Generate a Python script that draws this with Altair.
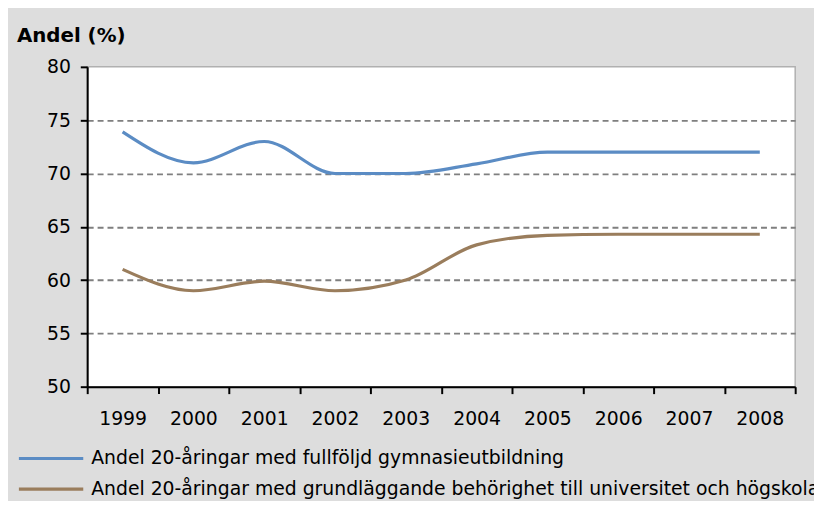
import altair as alt
import pandas as pd

years = ["1999", "2000", "2001", "2002", "2003", "2004", "2005", "2006", "2007", "2008"]
series_names = [
    "Andel 20-åringar med fullföljd gymnasieutbildning",
    "Andel 20-åringar med grundläggande behörighet till universitet och högskola",
]
gymnasie = [73.9, 71.0, 73.0, 70.0, 70.0, 70.9, 72.0, 72.0, 72.0, 72.0]
behorighet = [61.0, 59.0, 59.9, 59.0, 60.0, 63.3, 64.2, 64.3, 64.3, 64.3]
y_ticks = [50, 55, 60, 65, 70, 75, 80]
colors = ["#5b8cc4", "#9a7d5c"]

rows = []
for name, vals in zip(series_names, [gymnasie, behorighet]):
    for yr, v in zip(years, vals):
        rows.append({"year": yr, "value": v, "series": name})
df = pd.DataFrame(rows)

FONT = "DejaVu Sans"

chart = alt.Chart(df).mark_line(strokeWidth=3.2, interpolate="monotone").encode(
    x=alt.X(
        "year:O",
        bandPosition=0.5,
        sort=years,
        scale=alt.Scale(type="band", paddingInner=0, paddingOuter=0),
        axis=alt.Axis(
            title=None, labelAngle=0, tickBand="extent", grid=False,
            domainColor="#000000", domainWidth=2, tickColor="#000000", tickWidth=2,
            tickSize=7, labelPadding=16, labelFont=FONT, labelFontSize=19,
            labelColor="#000000",
        ),
    ),
    y=alt.Y(
        "value:Q",
        scale=alt.Scale(domain=[50, 80], nice=False, zero=False),
        axis=alt.Axis(
            title=None, values=y_ticks, grid=True, gridColor="#7f7f7f",
            gridDash=[6, 4], gridWidth=1.8,
            gridOpacity={"condition": {"test": "datum.value >= 80 || datum.value <= 50", "value": 0}, "value": 1},
            domainColor="#000000", domainWidth=2, tickColor="#000000", tickWidth=2,
            tickSize=7, labelPadding=10, labelFont=FONT, labelFontSize=19,
            labelColor="#000000",
        ),
    ),
    color=alt.Color(
        "series:N",
        scale=alt.Scale(domain=series_names, range=colors),
        legend=alt.Legend(
            title=None, orient="none", legendX=-71, legendY=380,
            symbolType="stroke", symbolSize=4225, symbolStrokeWidth=3.2,
            labelFont=FONT, labelFontSize=19, labelColor="#000000",
            labelLimit=2000, labelOffset=6, rowPadding=0, clipHeight=31,
            direction="vertical",
        ),
    ),
).properties(
    width=715,
    height=323,
    title=alt.TitleParams(
        "Andel (%)", anchor="start", frame="group", font=FONT, fontSize=20,
        fontWeight="bold", color="#000000", dx=-71, offset=12,
    ),
    autosize=alt.AutoSizeParams(type="none"),
    padding={"left": 80, "top": 57, "right": 19, "bottom": 113},
).configure(
    background="#dddddd",
).configure_view(
    fill="#ffffff", stroke="#b0b0b0", strokeWidth=1.5,
)

chart.save("out.html", embed_options={"renderer": "svg", "actions": False})
